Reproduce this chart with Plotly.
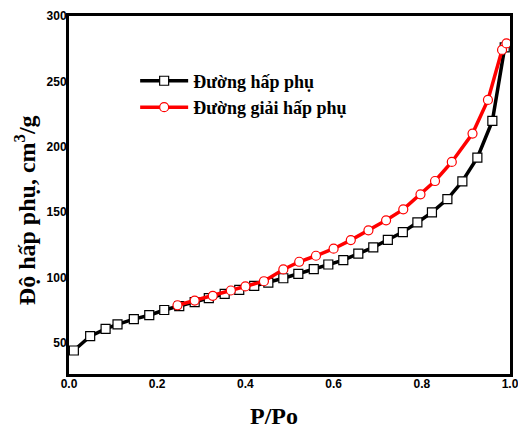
import plotly.graph_objects as go

ads_x = [0.011, 0.048, 0.083, 0.110, 0.147, 0.182, 0.216, 0.250, 0.285, 0.317, 0.353, 0.386, 0.420, 0.452, 0.486,
         0.520, 0.555, 0.588, 0.622, 0.656, 0.690, 0.723, 0.757, 0.790, 0.823, 0.858, 0.892, 0.926, 0.960, 0.988]
ads_y = [44, 55, 60.5, 64, 68, 71, 75, 78, 81, 84, 87.3, 90.4, 93.4, 96, 99.3,
         102.7, 106.2, 109.8, 113.1, 118.2, 122.9, 128.7, 134.6, 142, 149.7, 159.9, 173.5, 191.6, 219.7, 276]

des_x = [0.246, 0.285, 0.326, 0.367, 0.400, 0.442, 0.486, 0.522, 0.560, 0.600, 0.639, 0.679, 0.719, 0.758,
         0.797, 0.830, 0.868, 0.915, 0.950, 0.982, 0.992]
des_y = [78.6, 82.2, 85.8, 89.9, 93, 97, 106, 111.9, 116.5, 121.9, 128.5, 136, 143.6, 152,
         163.5, 173.7, 188.3, 210, 235.8, 274, 279]

x_ticks = [0.0, 0.2, 0.4, 0.6, 0.8, 1.0]
x_tick_labels = ["0.0", "0.2", "0.4", "0.6", "0.8", "1.0"]
y_ticks = [50, 100, 150, 200, 250, 300]

x_title = "P/Po"
y_title = "Độ hấp phụ, cm<sup>3</sup>/g"

fig = go.Figure()
fig.add_trace(go.Scatter(
    x=ads_x, y=ads_y, mode="lines+markers", name="Đường hấp phụ",
    line=dict(color="black", width=3.5),
    marker=dict(symbol="square", size=9, color="white", line=dict(color="black", width=1.2)),
))
fig.add_trace(go.Scatter(
    x=des_x, y=des_y, mode="lines+markers", name="Đường giải hấp phụ",
    line=dict(color="red", width=3.5),
    marker=dict(symbol="circle", size=9, color="white", line=dict(color="red", width=1.2)),
))

tickfont = dict(family="Liberation Sans, Arial", size=12, color="black", weight="bold")
axis_common = dict(
    showline=True, linecolor="black", linewidth=3, mirror=True,
    showgrid=False, zeroline=False, ticks="", automargin=False,
    tickfont=tickfont, ticklabeloverflow="allow",
)
title_font = dict(family="Liberation Serif, Times New Roman", size=24, color="black", weight="bold")

fig.update_layout(
    width=518, height=426,
    margin=dict(l=69, r=8, t=16, b=52),
    paper_bgcolor="white", plot_bgcolor="white",
    showlegend=True,
    legend=dict(
        x=0.15, y=0.87, xanchor="left", yanchor="top",
        bgcolor="rgba(0,0,0,0)",
        font=dict(family="Liberation Serif, Times New Roman", size=18, color="black", weight="bold"),
        tracegroupgap=0, itemwidth=48,
    ),
    xaxis=dict(range=[0, 1.0], tickvals=x_ticks, ticktext=x_tick_labels,
               ticklabelstandoff=-3, **axis_common),
    yaxis=dict(range=[26, 300], tickvals=y_ticks, ticklabelstandoff=-3, **axis_common),
    annotations=[
        dict(text=x_title, xref="paper", yref="paper", x=0.465, y=-0.117,
             xanchor="center", yanchor="middle", showarrow=False, font=title_font),
        dict(text=y_title, xref="paper", yref="paper", x=-0.098, y=0.457,
             xanchor="center", yanchor="middle", showarrow=False, textangle=-90, font=title_font),
    ],
)

fig.write_html("out.html", config={"displayModeBar": False},
               post_script="document.body.style.margin='0';document.body.style.overflow='hidden';")
